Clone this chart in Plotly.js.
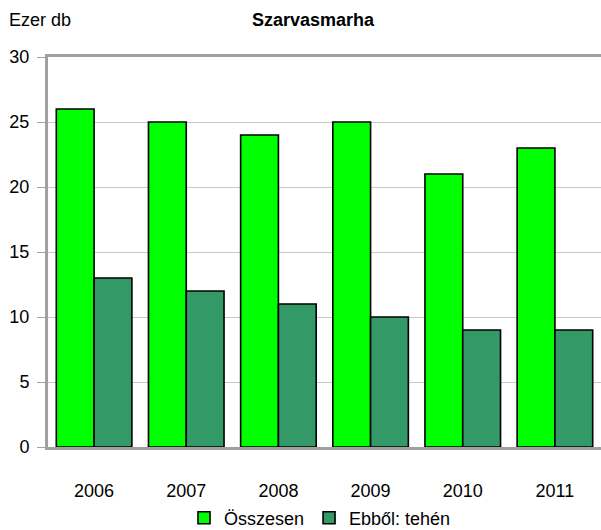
<!DOCTYPE html>
<html><head><meta charset="utf-8">
<script src="https://cdn.plot.ly/plotly-3.0.1.min.js"></script>
<style>html,body{margin:0;padding:0;background:#fff}#c{width:601px;height:530px}</style>
</head><body><div id="c"></div>
<script>
const years = ['2006','2007','2008','2009','2010','2011'];
const osszesen = [26, 25, 24, 25, 21, 23];
const tehen = [13, 12, 11, 10, 9, 9];
const seriesNames = ['Összesen', 'Ebből: tehén'];
const yTicks = [0, 5, 10, 15, 20, 25, 30];

const FONT = '"Liberation Sans", Arial, sans-serif';
const data = [
  {type:'bar', x: years, y: osszesen, name: seriesNames[0],
   marker:{color:'#00ff00', line:{color:'#000', width:1.6}}},
  {type:'bar', x: years, y: tehen, name: seriesNames[1],
   marker:{color:'#339966', line:{color:'#000', width:1.6}}}
];
const layout = {
  width:601, height:530,
  margin:{l:48, r:0, t:57, b:83},
  paper_bgcolor:'#fff', plot_bgcolor:'#fff',
  font:{family:FONT, size:18, color:'#000'},
  barmode:'group', bargap:0.18, bargroupgap:0,
  title:{text:'<b>Szarvasmarha</b>', x:313/601, xanchor:'center', y:1-20/530, yanchor:'middle', xref:'container', yref:'container',
    font:{family:FONT, size:18, color:'#000'}},
  xaxis:{type:'category', showline:true, linecolor:'#a0a0a0', linewidth:3, mirror:true, automargin:false,
    ticks:'', ticklabelstandoff:25, tickfont:{family:FONT, size:18}, showgrid:false, zeroline:false},
  yaxis:{range:[0,30], tickvals:yTicks, ticktext:yTicks.map(String), showline:true, linecolor:'#a0a0a0', linewidth:3, automargin:false, mirror:false,
    ticks:'outside', ticklen:8, tickcolor:'#a0a0a0', tickwidth:1, ticklabelstandoff:4,
    showgrid:true, gridcolor:'#c8c8c8', gridwidth:1, zeroline:false, tickfont:{family:FONT, size:18}},
  showlegend:true,
  legend:{orientation:'h', x:320/601, xanchor:'center', xref:'container', y:12/530, yanchor:'middle', yref:'container',
    font:{family:FONT, size:18}, itemwidth:30, tracegroupgap:0, bgcolor:'rgba(0,0,0,0)'},
  annotations:[{text:'Ezer db', xref:'paper', yref:'paper', x:-41/553, y:(447-20)/390, xanchor:'left', yanchor:'middle',
    showarrow:false, font:{family:FONT, size:18, color:'#000'}}]
};
Plotly.newPlot('c', data, layout, {displayModeBar:false, staticPlot:true});
</script></body></html>
